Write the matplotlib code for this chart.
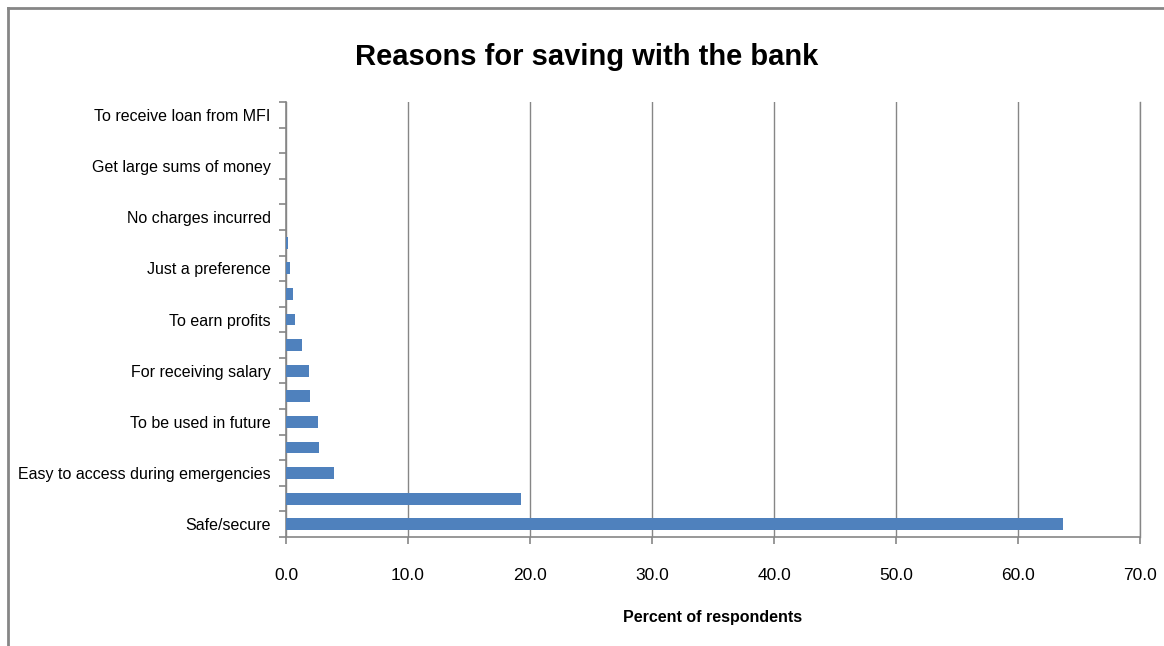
import matplotlib
matplotlib.use("Agg")
import matplotlib.pyplot as plt
from matplotlib import font_manager
import numpy as np

# pick a narrow font if present, Calibri-like look
names = {f.name for f in font_manager.fontManager.ttflist}
narrow = "Liberation Sans Narrow" if "Liberation Sans Narrow" in names else "Liberation Sans"
plt.rcParams["font.family"] = [narrow, "DejaVu Sans"]

# categories from bottom to top; every other one is not labelled in the source
reasons = [
    "Safe/secure",
    "",
    "Easy to access during emergencies",
    "",
    "To be used in future",
    "",
    "For receiving salary",
    "",
    "To earn profits",
    "",
    "Just a preference",
    "",
    "No charges incurred",
    "",
    "Get large sums of money",
    "",
    "To receive loan from MFI",
]
percent = [63.7, 19.3, 3.9, 2.7, 2.6, 2.0, 1.85, 1.35, 0.7, 0.6, 0.35, 0.2,
           0.0, 0.0, 0.0, 0.0, 0.0]
x_ticks = [0, 10, 20, 30, 40, 50, 60, 70]

grey = "#868686"

fig = plt.figure(figsize=(11.64, 6.46), dpi=100)
ax = fig.add_axes([286 / 1164, 1 - 537 / 646, (1140 - 286) / 1164, (537 - 102) / 646])

y = np.arange(len(reasons))
ax.barh(y, percent, height=0.46, color="#4F81BD", zorder=3)

ax.set_xlim(0, 70)
ax.set_ylim(-0.5, len(reasons) - 0.5)
ax.set_xticks(x_ticks)
ax.set_xticklabels(["%.1f" % v for v in x_ticks], fontsize=12.5)
ax.set_yticks(y)
ax.set_yticklabels(reasons, fontsize=11.5)
ax.set_yticks(np.arange(len(reasons) + 1) - 0.5, minor=True)
ax.tick_params(axis="y", which="major", length=0, pad=11)
ax.tick_params(axis="y", which="minor", length=5, color=grey, width=1.2)
ax.tick_params(axis="x", length=5, color=grey, width=1.2, pad=17)

ax.grid(axis="x", color=grey, linewidth=1.0, zorder=0)
ax.axvline(70, color=grey, linewidth=1.0, zorder=0, clip_on=False)
for s in ["top", "right"]:
    ax.spines[s].set_visible(False)
for s in ["left", "bottom"]:
    ax.spines[s].set_color(grey)
    ax.spines[s].set_linewidth(1.2)

ax.set_xlabel("Percent of respondents", fontsize=11.5, fontweight="bold", labelpad=19.5)
fig.text(587 / 1164, 1 - 57 / 646, "Reasons for saving with the bank",
         ha="center", va="center", fontsize=21, fontweight="bold")

# outer chart frame (only top and left edges visible in the crop)
fig.add_artist(plt.Line2D([8 / 1164, 1], [1 - 8 / 646, 1 - 8 / 646], color=grey, linewidth=2))
fig.add_artist(plt.Line2D([8 / 1164, 8 / 1164], [0, 1 - 8 / 646], color=grey, linewidth=2))

fig.savefig("out.png", dpi=100)
